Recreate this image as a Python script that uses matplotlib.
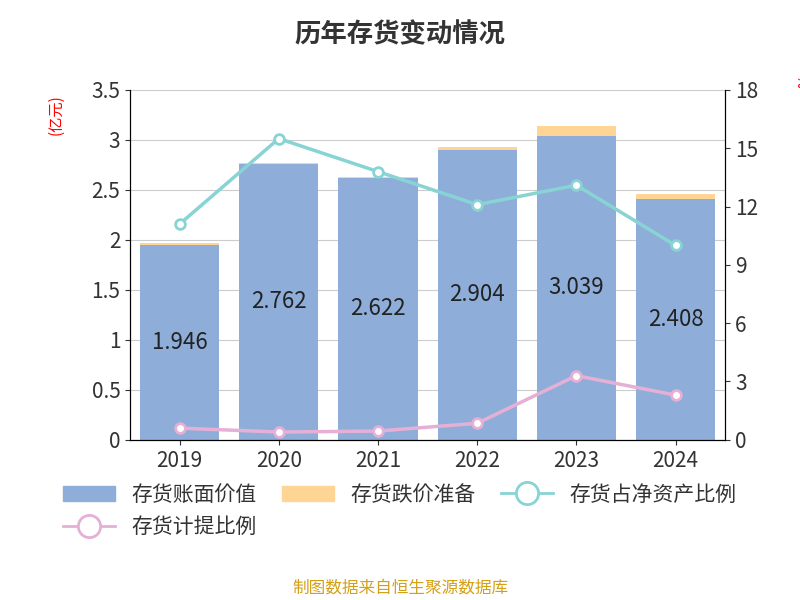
import matplotlib
matplotlib.use("Agg")
import matplotlib.pyplot as plt
from matplotlib import font_manager
from matplotlib.lines import Line2D
from matplotlib.patches import Patch
import glob

for f in glob.glob("/usr/share/fonts/**/*CJK*", recursive=True):
    try:
        font_manager.fontManager.addfont(f)
    except Exception:
        pass
names = {f.name for f in font_manager.fontManager.ttflist}
cjk = [n for n in ["Noto Sans CJK SC", "Noto Sans CJK JP", "Noto Sans CJK TC", "Noto Sans CJK KR"] if n in names]
plt.rcParams["font.family"] = "sans-serif"
plt.rcParams["font.sans-serif"] = cjk + ["DejaVu Sans"]

years = ["2019", "2020", "2021", "2022", "2023", "2024"]
book_value = [1.946, 2.762, 2.622, 2.904, 3.039, 2.408]
provision = [0.02, 0.01, 0.01, 0.03, 0.10, 0.05]
inv_to_net_assets = [11.1, 15.5, 13.8, 12.1, 13.1, 10.0]
provision_ratio = [0.6, 0.4, 0.45, 0.85, 3.3, 2.3]

fig = plt.figure(figsize=(8, 6), dpi=100)
ax = fig.add_axes([0.1625, 0.267, 0.744, 0.583])
ax2 = ax.twinx()
x = range(len(years))
ax.bar(x, book_value, width=0.8, color="#8eaed9", zorder=2)
ax.bar(x, provision, bottom=book_value, width=0.8, color="#fed594", zorder=2)
for i, v in enumerate(book_value):
    ax.text(i, v / 2, f"{v:.3f}", ha="center", va="center", fontsize=16, color="#222")
ax.set_ylim(0, 3.5)
ax.set_yticks([0, 0.5, 1, 1.5, 2, 2.5, 3, 3.5])
ax.set_yticklabels(["0", "0.5", "1", "1.5", "2", "2.5", "3", "3.5"])
ax.set_xlim(-0.5, 5.5)
ax.set_xticks(list(x))
ax.set_xticklabels(years)
ax.grid(axis="y", color="#cccccc", zorder=0)
ax.set_axisbelow(True)
ax.spines["top"].set_visible(False)
ax2.spines["top"].set_visible(False)
ax.tick_params(labelsize=15, colors="#333")
ax2.tick_params(labelsize=15, colors="#333")
ax2.plot(x, inv_to_net_assets, color="#88d4d4", lw=2.5, marker="o", ms=7, mfc="white", mec="#88d4d4", mew=2, zorder=3)
ax2.plot(x, provision_ratio, color="#e6b0d6", lw=2.5, marker="o", ms=7, mfc="white", mec="#e6b0d6", mew=2, zorder=3)
ax2.set_ylim(0, 18)
ax2.set_yticks([0, 3, 6, 9, 12, 15, 18])
ax.set_ylabel("(亿元)", color="red", fontsize=11, labelpad=2)
ax.yaxis.set_label_coords(-0.11, 0.93)
fig.text(0.99, 0.86, "%", color="red", fontsize=11, rotation=-90, ha="left")
fig.suptitle("历年存货变动情况", y=0.965, fontsize=19, fontweight="bold", color="#333")
h1 = Patch(color="#8eaed9")
h2 = Patch(color="#fed594")
h3 = Line2D([], [], color="#88d4d4", lw=2, marker="o", ms=16, mfc="white", mew=2)
h4 = Line2D([], [], color="#e6b0d6", lw=2, marker="o", ms=16, mfc="white", mew=2)
handles = [h1, h4, h2, h3]
labels = ["存货账面价值", "存货计提比例", "存货跌价准备", "存货占净资产比例"]
fig.legend(handles, labels, loc="upper left", bbox_to_anchor=(0.055, 0.225), ncol=3,
           frameon=False, fontsize=15, labelcolor="#333", handlelength=2.5, columnspacing=1.2)
fig.text(0.5, 0.012, "制图数据来自恒生聚源数据库", ha="center", color="#d4a017", fontsize=12)
fig.savefig("out.png")
